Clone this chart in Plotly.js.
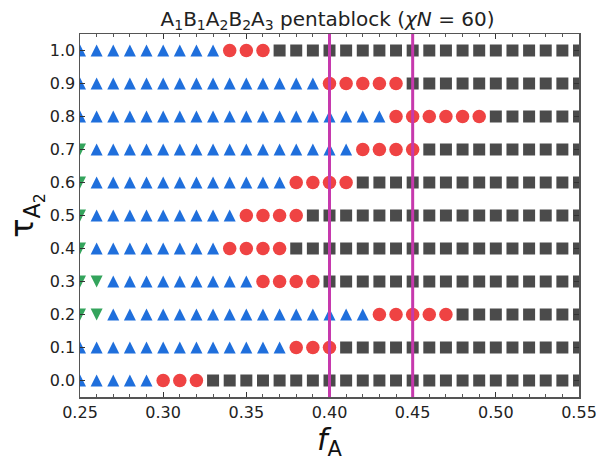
<!DOCTYPE html>
<html>
<head>
<meta charset="utf-8">
<script src="https://cdn.plot.ly/plotly-3.0.1.min.js"></script>
<style>html,body{margin:0;padding:0;background:#fff;}#chart{width:601px;height:462px;}</style>
</head>
<body>
<div id="chart"></div>
<script>
// f_A grid (x values of the computed points)
const fA = [0.25,0.26,0.27,0.28,0.29,0.30,0.31,0.32,0.33,0.34,0.35,0.36,0.37,0.38,0.39,0.40,
            0.41,0.42,0.43,0.44,0.45,0.46,0.47,0.48,0.49,0.50,0.51,0.52,0.53,0.54,0.55];
// tau_A2 rows
const tauA2 = [1.0,0.9,0.8,0.7,0.6,0.5,0.4,0.3,0.2,0.1,0.0];
// phase runs along each row (G = green down-triangle, T = blue triangle, C = red circle, S = grey square)
const row10 = [["T",9],["C",3],["S",19]];
const row09 = [["T",15],["C",5],["S",11]];
const row08 = [["T",19],["C",6],["S",6]];
const row07 = [["G",1],["T",16],["C",4],["S",10]];
const row06 = [["G",1],["T",12],["C",4],["S",14]];
const row05 = [["G",1],["T",9],["C",4],["S",17]];
const row04 = [["G",1],["T",8],["C",4],["S",18]];
const row03 = [["G",2],["T",9],["C",4],["S",16]];
const row02 = [["G",2],["T",16],["C",5],["S",8]];
const row01 = [["T",13],["C",3],["S",15]];
const row00 = [["T",5],["C",3],["S",23]];
const rows = [row10,row09,row08,row07,row06,row05,row04,row03,row02,row01,row00];
// boundary lines
const vlines = [0.40, 0.45];
const xTicks = [0.25,0.30,0.35,0.40,0.45,0.50,0.55];
const yTicks = [0.0,0.1,0.2,0.3,0.4,0.5,0.6,0.7,0.8,0.9,1.0];

// arrow-down rotated 180deg with standoff = size/2 gives a centred upward triangle
const styles = {
  T: {symbol:'arrow-down', angle:180, standoff:6, color:'#1f6fdc', size:12},
  G: {symbol:'arrow-down', angle:0, standoff:6, color:'#34a45c', size:12},
  C: {symbol:'circle', angle:0, standoff:0, color:'#ef4343', size:13.5},
  S: {symbol:'square', angle:0, standoff:0, color:'#4b4b4b', size:12}
};
const pts = {T:{x:[],y:[]},G:{x:[],y:[]},C:{x:[],y:[]},S:{x:[],y:[]}};
rows.forEach((runs, ri) => {
  let i = 0;
  runs.forEach(([ph, n]) => {
    for (let k = 0; k < n; k++) { pts[ph].x.push(fA[i]); pts[ph].y.push(tauA2[ri]); i++; }
  });
});
const traces = ['S','C','T','G'].map(ph => ({
  type:'scatter', mode:'markers', x:pts[ph].x, y:pts[ph].y, cliponaxis:true,
  marker:{symbol:styles[ph].symbol, angle:styles[ph].angle, standoff:styles[ph].standoff,
          color:styles[ph].color, size:styles[ph].size, line:{width:0}},
  showlegend:false, hoverinfo:'skip'
}));

const axisCommon = {
  showgrid:false, zeroline:false, showline:true, linecolor:'#555', linewidth:1.5, mirror:'ticks',
  ticks:'inside', ticklen:5, tickwidth:1, tickcolor:'#333',
  tickfont:{family:'DejaVu Sans', size:16, color:'#222'}
};
const layout = {
  width:601, height:462,
  margin:{l:80, r:22, t:34, b:65},
  paper_bgcolor:'#fff', plot_bgcolor:'#fff',
  title:{text:'A<sub>1</sub>B<sub>1</sub>A<sub>2</sub>B<sub>2</sub>A<sub>3</sub> pentablock (<i>χN</i> = 60)',
         font:{family:'DejaVu Sans', size:20, color:'#222'}, x:0.545, xref:'container', xanchor:'center', y:0.975, yref:'container', yanchor:'top'},
  xaxis: Object.assign({}, axisCommon, {
    range:[0.25,0.55], tickvals:xTicks, ticktext:xTicks.map(v=>v.toFixed(2)),
    minor:{ticks:'inside', dtick:0.01, tick0:0.25, ticklen:3, tickcolor:'#555', showgrid:false},
    title:{text:'<i>f</i><sub>A</sub>', font:{family:'DejaVu Sans', size:30, color:'#111'}, standoff:4}
  }),
  yaxis: Object.assign({}, axisCommon, {
    range:[-0.05,1.05], tickvals:yTicks, ticktext:yTicks.map(v=>v.toFixed(1)),
    title:{text:'τ<sub>A<sub>2</sub></sub>', font:{family:'DejaVu Sans', size:32, color:'#111'}, standoff:6}
  }),
  shapes: vlines.map(v => ({type:'line', xref:'x', yref:'paper', x0:v, x1:v, y0:0, y1:1,
                            line:{color:'#c639ad', width:3}, layer:'above'}))
};
Plotly.newPlot('chart', traces, layout, {staticPlot:true, displayModeBar:false});
</script>
</body>
</html>
